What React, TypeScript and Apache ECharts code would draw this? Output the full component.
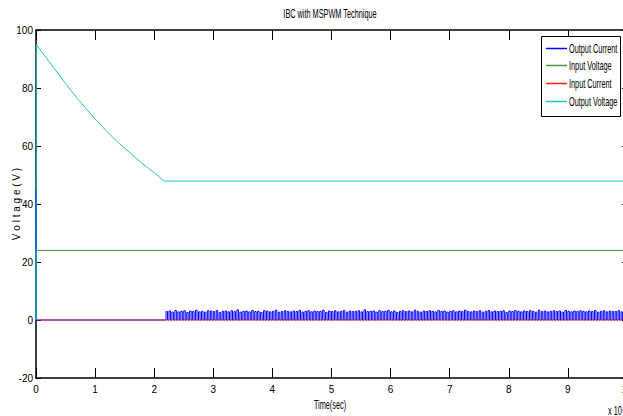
import React, { useEffect, useRef } from "react";
import * as echarts from "echarts";

const TITLE = "IBC with MSPWM Technique";
const X_NAME = "Time(sec)";
const Y_NAME = "V o l t a g e ( V )";
const X_MULT = "x 10";
const X_MULT_EXP = "-3";
const SERIES_NAMES = ["Output Current", "Input Voltage", "Input Current", "Output Voltage"];
const COLORS = ["#0000ff", "#3d9b3d", "#ff1a1a", "#1cc4c4"];

const X_MIN = 0;
const X_MAX = 10;
const Y_MIN = -20;
const Y_MAX = 100;

// Output voltage: [time, value]
const outputVoltage: [number, number][] = [
  [0, 0], [0.005, 95], [0.15, 91], [0.3, 87], [0.5, 81.5], [0.7, 76.4], [1.0, 69.3],
  [1.2, 65], [1.4, 61], [1.6, 57.5], [1.8, 53.9], [2.0, 50.8], [2.17, 47.9], [10, 47.9],
];

const inputVoltage: [number, number][] = [[0, 0], [0.002, 24], [10, 24]];
const inputCurrent: [number, number][] = [[0, 0], [10, 0]];

// Output current: start-up spike, then PWM pulses
const outputCurrentStart: [number, number][] = [[0, 0], [0.003, 45], [0.008, 0], [2.2, 0]];
const pulseStart = 2.2;
const pulseStep = 0.05;
const pulseWidth = 0.025;
const outputCurrentPeaks = [
  2.9, 3.1, 2.7, 3.3, 2.8, 3.0, 3.2, 2.6, 3.1, 2.9, 3.4, 2.8, 3.0, 2.7, 3.2, 3.1, 2.9, 3.3, 2.6, 3.0,
  3.1, 2.8, 3.2, 2.9, 3.5, 2.7, 3.0, 3.1, 2.8, 3.3, 2.9, 3.0, 2.6, 3.2, 3.1, 2.8, 3.0, 3.4, 2.7, 2.9,
  3.2, 3.0, 2.8, 3.1, 2.9, 3.3, 2.7, 3.0, 3.2, 2.8, 3.1, 2.9, 3.0, 3.4, 2.6, 3.1, 2.9, 3.2, 2.8, 3.0,
  3.3, 2.7, 3.1, 2.9, 3.0, 3.2, 2.8, 3.5, 2.9, 3.0, 3.1, 2.7, 3.2, 2.9, 3.0, 3.3, 2.8, 3.1, 2.6, 3.0,
  3.2, 2.9, 3.1, 2.8, 3.4, 3.0, 2.7, 3.1, 2.9, 3.2, 3.0, 2.8, 3.3, 2.9, 3.1, 2.7, 3.0, 3.2, 2.8, 3.1,
  2.9, 3.4, 3.0, 2.8, 3.1, 2.9, 3.2, 2.7, 3.0, 3.3, 2.8, 3.1, 2.9, 3.0, 3.2, 2.6, 3.1, 2.9, 3.3, 3.0,
  2.8, 3.1, 2.9, 3.2, 3.0, 2.7, 3.4, 2.9, 3.1, 2.8, 3.0, 3.2, 2.9, 3.1, 2.7, 3.3, 3.0, 2.8, 3.1, 2.9,
  3.2, 3.0, 2.8, 3.1, 2.9, 3.3, 2.7, 3.0, 3.2, 2.8, 3.1, 2.9, 3.0, 3.2, 2.8, 3.1,
];

const FONT = "'Liberation Sans', Arial, sans-serif";
const NARROW = 0.61;

export default function App() {
  const ref = useRef<HTMLDivElement>(null);
  useEffect(() => {
    if (!ref.current) return;
    const chart = echarts.init(ref.current, undefined, { renderer: "svg" });

    const outputCurrent: [number, number][] = [...outputCurrentStart];
    outputCurrentPeaks.forEach((p, i) => {
      const t = pulseStart + i * pulseStep;
      outputCurrent.push([t, 0], [t, p], [t + pulseWidth, p], [t + pulseWidth, 0]);
    });
    outputCurrent.push([X_MAX, 0]);

    const datasets = [outputCurrent, inputVoltage, inputCurrent, outputVoltage];

    const axisCommon = {
      axisLine: { show: true, onZero: false, lineStyle: { color: "#000", width: 1.5 } },
      splitLine: { show: false },
    };

    const legendBox = { x: 541.5, y: 36.5, w: 79, h: 80 };
    const legendRows = [48.5, 65.5, 83.5, 101.5];
    const legendGraphics: any[] = [
      {
        type: "rect",
        id: "legend-box",
        shape: { x: legendBox.x, y: legendBox.y, width: legendBox.w, height: legendBox.h },
        style: { fill: "#fff", stroke: "#000", lineWidth: 1 },
        z: 100,
      },
    ];
    SERIES_NAMES.forEach((name, i) => {
      legendGraphics.push({
        type: "rect",
        id: "legend-line-" + i,
        shape: { x: 546, y: legendRows[i] - 0.75, width: 21, height: 1.5 },
        style: { fill: COLORS[i], stroke: null },
        z: 101,
      });
      legendGraphics.push({
        type: "text",
        id: "legend-text-" + i,
        x: 569,
        y: legendRows[i],
        scaleX: NARROW,
        style: {
          text: name,
          fontSize: 12,
          fontFamily: FONT,
          fill: "#000",
          verticalAlign: "middle",
          textAlign: "left",
        },
        z: 101,
      });
    });

    chart.setOption({
      animation: false,
      backgroundColor: "#fff",
      textStyle: { fontFamily: FONT },
      grid: { left: 36, right: 13, top: 30, bottom: 38, outerBoundsMode: "none", containLabel: false },
      xAxis: [
        {
          type: "value",
          min: X_MIN,
          max: X_MAX,
          interval: 1,
          position: "bottom",
          ...axisCommon,
          axisTick: { show: true, inside: true, length: 10, lineStyle: { color: "#000" } },
          axisLabel: { fontSize: 10, color: "#000", margin: 6, fontFamily: FONT },
        },
        {
          type: "value",
          min: X_MIN,
          max: X_MAX,
          interval: 1,
          position: "top",
          ...axisCommon,
          axisTick: { show: true, inside: true, length: 10, lineStyle: { color: "#000" } },
          axisLabel: { show: false },
        },
      ],
      yAxis: [
        {
          type: "value",
          min: Y_MIN,
          max: Y_MAX,
          interval: 20,
          position: "left",
          ...axisCommon,
          axisTick: { show: true, inside: true, length: 5, lineStyle: { color: "#000" } },
          axisLabel: { fontSize: 10, color: "#000", margin: 3, fontFamily: FONT },
          name: Y_NAME,
          nameLocation: "middle",
          nameGap: 15,
          nameMoveOverlap: false,
          nameTextStyle: { fontSize: 10, color: "#000", fontFamily: FONT },
        },
        {
          type: "value",
          min: Y_MIN,
          max: Y_MAX,
          interval: 20,
          position: "right",
          ...axisCommon,
          axisTick: { show: true, inside: true, length: 5, lineStyle: { color: "#000" } },
          axisLabel: { show: false },
        },
      ],
      graphic: [
        {
          type: "text",
          id: "title",
          x: 330,
          y: 14,
          scaleX: NARROW,
          style: {
            text: TITLE,
            fontSize: 12,
            fontFamily: FONT,
            fill: "#000",
            textAlign: "center",
            verticalAlign: "middle",
          },
        },
        {
          type: "text",
          id: "xname",
          x: 330,
          y: 405,
          scaleX: NARROW,
          style: {
            text: X_NAME,
            fontSize: 12,
            fontFamily: FONT,
            fill: "#000",
            textAlign: "center",
            verticalAlign: "middle",
          },
        },
        {
          type: "text",
          id: "xmult",
          x: 608,
          y: 405,
          scaleX: NARROW,
          style: {
            text: X_MULT + "{sup|" + X_MULT_EXP + "}",
            fontSize: 12,
            fill: "#000",
            fontFamily: FONT,
            rich: { sup: { fontSize: 9, verticalAlign: "top", fill: "#000", fontFamily: FONT } },
          },
        },
        ...legendGraphics,
      ],
      series: SERIES_NAMES.map((name, i) => ({
        name,
        type: "line",
        data: datasets[i],
        showSymbol: false,
        symbol: "none",
        color: COLORS[i],
        lineStyle: { color: COLORS[i], width: 1, opacity: i === 2 ? 0.75 : 1 },
        z: 2 + i,
        clip: true,
      })),
    });
    return () => chart.dispose();
  }, []);

  return (
    <div
      style={{
        position: "fixed",
        left: 0,
        top: 0,
        width: 623,
        height: 416,
        overflow: "hidden",
        background: "#fff",
      }}
    >
      <div ref={ref} style={{ width: 640, height: 416 }} />
    </div>
  );
}
